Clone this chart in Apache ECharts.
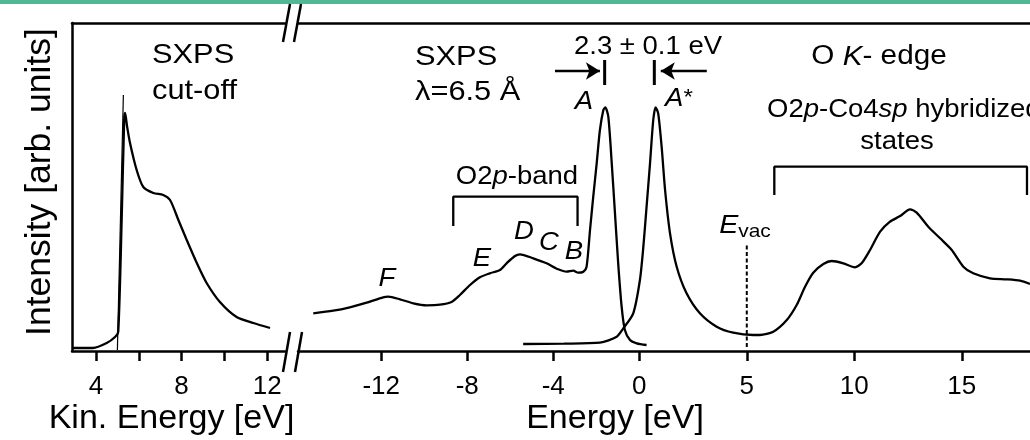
<!DOCTYPE html>
<html>
<head>
<meta charset="utf-8">
<script src="https://cdn.jsdelivr.net/npm/echarts@6/dist/echarts.min.js"></script>
<style>
  html, body { margin: 0; padding: 0; background: #fff; }
  #chart { width: 1030px; height: 440px; }
</style>
</head>
<body>
<div id="chart"></div>
<script>
// SXPS cut-off (kinetic energy scale)
const kinEnergy = [2.88, 3.86, 4.50, 4.89, 5.04, 5.20, 5.32, 5.36, 5.45, 5.59, 5.90, 6.21, 6.68, 7.14, 7.46, 7.85, 8.24, 8.71, 9.17, 9.79, 10.57, 11.35, 12.13]
const kinCounts = [3, 3, 8, 14, 19, 131, 233, 238, 225, 208, 181, 164, 158, 156, 151, 131, 111, 88, 68, 49, 34, 28, 23]
// linear extrapolation of the cut-off edge
const edgeEnergy = [5.0, 5.28]
const edgeCounts = [1, 256]

// SXPS valence band, lambda = 6.5 A
const vbEnergy = [-15.16, -14.23, -13.46, -12.68, -11.91, -11.67, -11.13, -10.51, -9.89, -9.27, -8.73, -8.34, -7.87, -7.41, -6.95, -6.48, -6.17, -5.78, -5.55, -4.93, -4.31, -3.77, -3.38, -3.07, -2.84, -2.60, -2.45, -2.29, -2.14, -1.98, -1.83, -1.67, -1.58, -1.44, -1.28, -1.13, -0.98, -0.82, -0.67, -0.43, -0.12, 0.34]
const vbCounts = [37.7, 40.3, 43.7, 48.3, 53.7, 54.3, 51.7, 47.7, 45.7, 46.3, 49, 56, 66, 73.7, 77.7, 81, 87.7, 95, 96.7, 92.7, 87.7, 81.7, 79.3, 80.3, 78.3, 79.3, 84.3, 121, 154.3, 187.7, 221, 241, 243.7, 234.3, 187.7, 137.7, 87.7, 44.3, 21, 11, 7.7, 6]

// O K-edge XAS
const xasEnergy = [-5.40, -3.50, -1.83, -1.05, -0.74, -0.28, 0.03, 0.19, 0.34, 0.50, 0.65, 0.76, 0.88, 1.04, 1.20, 1.43, 1.74, 2.20, 2.82, 3.60, 4.37, 5.30, 5.61, 6.23, 6.86, 7.32, 7.71, 8.09, 8.56, 8.95, 9.49, 10.03, 10.34, 10.73, 11.20, 11.66, 12.13, 12.59, 12.90, 13.44, 13.99, 14.53, 15.07, 15.53, 16.31, 17.09, 17.71, 18.17]
const xasCounts = [7, 7.3, 8.3, 14.3, 22.7, 37.7, 71, 104.3, 144.3, 187.7, 231, 243.7, 237.7, 204.3, 161, 117.7, 84.3, 57.7, 37.7, 24.3, 18.3, 16, 16, 19.3, 31, 46, 64.3, 78.3, 87, 90, 87.7, 83.7, 87.7, 101, 119.3, 129.3, 135, 141.7, 138.3, 124.3, 112.7, 101, 84.3, 77.7, 72.7, 71.7, 70.3, 67]

// axes
const kinRange = [2.88, 12.83]
const energyRange = [-15.87, 18.17]
const intensityRange = [0, 328]
const kinTicks = [4, 6, 8, 10, 12]
const kinLabels = [4, 8, 12]
const energyTicks = [-12, -8, -4, 0, 5, 10, 15]

// annotations (data coordinates)
const o2pBracket = [[-8.65, 125], [-8.65, 154.3], [-2.87, 154.3], [-2.87, 125]]
const hybBracket = [[6.28, 156], [6.28, 184.3], [18.03, 184.3], [18.03, 156]]
const peakA = -1.61
const peakAstar = 0.70
const splitBar = [266, 291]
const arrowLevel = 280
const arrowLeft = [-3.92, -1.83]
const arrowRight = [3.14, 1.00]
const vacuumLevel = 5
const vacuumSpan = [4, 106]

const pair = (xs, ys) => xs.map((x, i) => [x, ys[i]])

const chart = echarts.init(document.getElementById('chart'))
const FONT = 'Liberation Sans, Arial, sans-serif'
const BLACK = '#000'

const lineStyle = (w) => ({ color: BLACK, width: w })
const plain = { symbol: 'none', silent: true, animation: false }

function bottomAxis(gridIndex, range, name, ticks, labels, pad) {
  return {
    type: 'value', gridIndex, position: 'bottom',
    min: range[0], max: range[1],
    axisLine: { show: true, lineStyle: lineStyle(2.5) },
    axisTick: { show: true, inside: false, length: 10, lineStyle: lineStyle(2.5), customValues: ticks },
    axisLabel: { show: true, customValues: labels, margin: 23, fontSize: 26, color: BLACK, fontFamily: FONT },
    splitLine: { show: false },
    name, nameLocation: 'middle', nameGap: 51, nameMoveOverlap: false,
    nameTextStyle: { fontSize: 34, color: BLACK, fontFamily: FONT, padding: pad }
  }
}
function topAxis(gridIndex, range) {
  return {
    type: 'value', gridIndex, position: 'top',
    min: range[0], max: range[1],
    axisLine: { show: true, lineStyle: lineStyle(2.5) },
    axisTick: { show: false }, axisLabel: { show: false }, splitLine: { show: false }
  }
}

// annotation text; the original lettering is a little wider than Liberation Sans
function txt(x, y, text, size, align, rich) {
  return {
    type: 'text', x, y, scaleX: 1.1, silent: true,
    style: {
      text, fill: BLACK, fontSize: size, fontFamily: FONT,
      align: align || 'left', verticalAlign: 'middle', rich: rich || undefined
    }
  }
}
const it = (size) => ({ fontStyle: 'italic', fontSize: size, fontFamily: FONT, fill: BLACK })
const rm = (size) => ({ fontSize: size, fontFamily: FONT, fill: BLACK })

const option = {
  backgroundColor: '#fff',
  animation: false,
  grid: [
    { left: 72, top: 23, width: 213, bottom: 89, outerBoundsMode: 'none', containLabel: false },
    { left: 298, top: 23, right: 0, bottom: 89, outerBoundsMode: 'none', containLabel: false }
  ],
  xAxis: [
    bottomAxis(0, kinRange, 'Kin. Energy [eV]', kinTicks, kinLabels, [0, 14, 0, 0]),
    bottomAxis(1, energyRange, 'Energy [eV]', energyTicks, energyTicks, [0, 98, 0, 0]),
    topAxis(0, kinRange),
    topAxis(1, energyRange)
  ],
  yAxis: [
    {
      type: 'value', gridIndex: 0, min: intensityRange[0], max: intensityRange[1],
      axisLine: { show: true, lineStyle: lineStyle(2.5) },
      axisTick: { show: false }, axisLabel: { show: false }, splitLine: { show: false },
      name: 'Intensity [arb. units]', nameLocation: 'middle', nameRotate: 90, nameGap: 14,
      nameMoveOverlap: false,
      nameTextStyle: { fontSize: 35.5, color: BLACK, fontFamily: FONT, padding: [0, 0, 0, 10] }
    },
    {
      type: 'value', gridIndex: 1, min: intensityRange[0], max: intensityRange[1], show: false
    }
  ],
  series: [
    { ...plain, type: 'line', xAxisIndex: 0, yAxisIndex: 0, smooth: 0.25,
      data: pair(kinEnergy, kinCounts), lineStyle: lineStyle(2.3) },
    { ...plain, type: 'line', xAxisIndex: 0, yAxisIndex: 0,
      data: pair(edgeEnergy, edgeCounts), lineStyle: lineStyle(1.2) },
    { ...plain, type: 'line', xAxisIndex: 1, yAxisIndex: 1, smooth: 0.25,
      data: pair(vbEnergy, vbCounts), lineStyle: lineStyle(2.3) },
    { ...plain, type: 'line', xAxisIndex: 1, yAxisIndex: 1, smooth: 0.25,
      data: pair(xasEnergy, xasCounts), lineStyle: lineStyle(2.3) },
    { ...plain, type: 'line', xAxisIndex: 1, yAxisIndex: 1, data: o2pBracket, lineStyle: lineStyle(2.3) },
    { ...plain, type: 'line', xAxisIndex: 1, yAxisIndex: 1, data: hybBracket, lineStyle: lineStyle(2.3) },
    { ...plain, type: 'line', xAxisIndex: 1, yAxisIndex: 1,
      data: [[peakA, splitBar[0]], [peakA, splitBar[1]]], lineStyle: lineStyle(3) },
    { ...plain, type: 'line', xAxisIndex: 1, yAxisIndex: 1,
      data: [[peakAstar, splitBar[0]], [peakAstar, splitBar[1]]], lineStyle: lineStyle(3) },
    { ...plain, type: 'line', xAxisIndex: 1, yAxisIndex: 1,
      data: [[vacuumLevel, vacuumSpan[0]], [vacuumLevel, vacuumSpan[1]]],
      lineStyle: { color: BLACK, width: 2, type: [4, 2.5] } },
    { ...plain, type: 'line', xAxisIndex: 1, yAxisIndex: 1, data: [],
      markLine: {
        silent: true, symbol: ['none', 'arrow'], symbolSize: [13, 14],
        label: { show: false },
        lineStyle: { color: BLACK, width: 2.3, type: 'solid' },
        data: [
          [{ coord: [arrowLeft[0], arrowLevel] }, { coord: [arrowLeft[1], arrowLevel] }],
          [{ coord: [arrowRight[0], arrowLevel] }, { coord: [arrowRight[1], arrowLevel] }]
        ]
      } }
  ],
  graphic: [
    { type: 'rect', shape: { x: 0, y: 0, width: 1030, height: 4 }, style: { fill: '#52b893' }, silent: true },
    // axis breaks
    { type: 'line', shape: { x1: 283, y1: 42, x2: 290, y2: 4 }, style: { stroke: BLACK, lineWidth: 2.5 }, silent: true },
    { type: 'line', shape: { x1: 294, y1: 42, x2: 301, y2: 4 }, style: { stroke: BLACK, lineWidth: 2.5 }, silent: true },
    { type: 'line', shape: { x1: 283, y1: 372, x2: 290, y2: 332 }, style: { stroke: BLACK, lineWidth: 2.5 }, silent: true },
    { type: 'line', shape: { x1: 295, y1: 372, x2: 302, y2: 332 }, style: { stroke: BLACK, lineWidth: 2.5 }, silent: true },
    // labels
    txt(152, 55, 'SXPS', 28),
    txt(152, 91, 'cut-off', 28),
    txt(415, 57, 'SXPS', 28),
    txt(415, 92, 'λ=6.5 Å', 28),
    txt(648, 47, '2.3 ± 0.1 eV', 25, 'center'),
    txt(584, 102, '{i|A}', 25, 'center', { i: it(25) }),
    txt(679, 99, '{i|A}{r|*}', 25, 'center', { i: it(25), r: { ...rm(22), verticalAlign: 'top' } }),
    txt(879, 57, '{r|O }{i|K}{r|- edge}', 27, 'center', { r: rm(27), i: it(27) }),
    txt(767, 110, '{r|O2}{i|p}{r|-Co4}{i|sp}{r| hybridized}', 25, 'left', { r: rm(25), i: it(25) }),
    txt(897, 142, 'states', 25, 'center'),
    txt(517, 177, '{r|O2}{i|p}{r|-band}', 25, 'center', { r: rm(25), i: it(25) }),
    txt(387, 279, '{i|F}', 25, 'center', { i: it(25) }),
    txt(482, 259, '{i|E}', 25, 'center', { i: it(25) }),
    txt(524, 232, '{i|D}', 25, 'center', { i: it(25) }),
    txt(549, 243, '{i|C}', 25, 'center', { i: it(25) }),
    txt(574, 252, '{i|B}', 25, 'center', { i: it(25) }),
    txt(745, 226, '{i|E}{s|vac}', 26, 'center', { i: it(26), s: { ...rm(19), verticalAlign: 'bottom', padding: [12, 0, 0, 0] } })
  ]
}

chart.setOption(option)
</script>
</body>
</html>
